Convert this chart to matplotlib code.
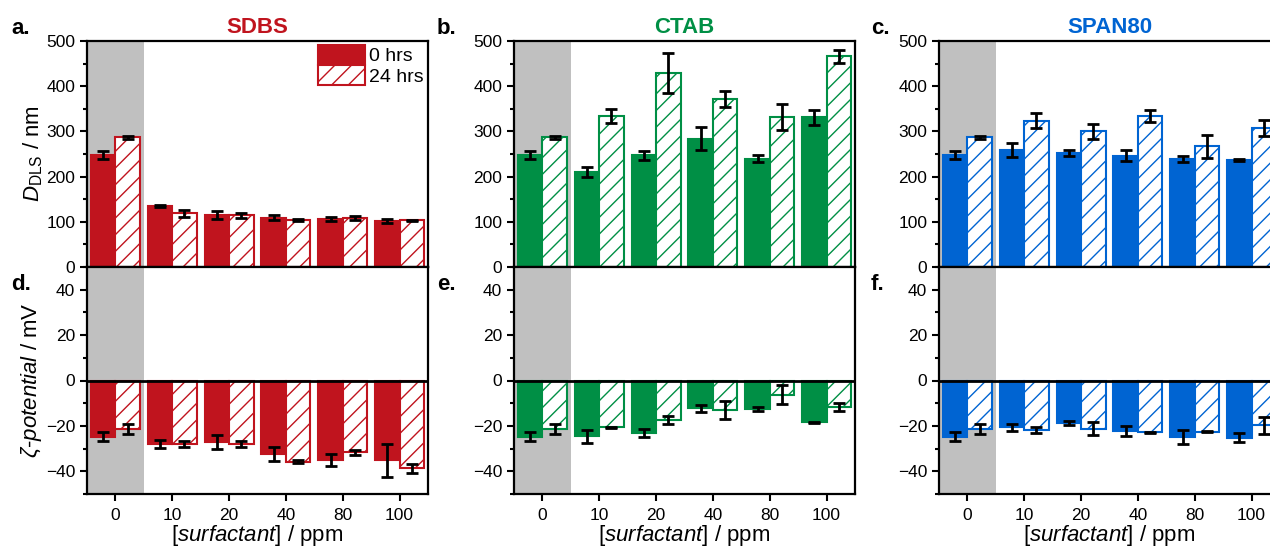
import numpy as np
import matplotlib
matplotlib.use('Agg')
import matplotlib.pyplot as plt
from matplotlib.ticker import MultipleLocator
from matplotlib.patches import Patch

plt.rcParams['font.family'] = ['Liberation Sans', 'DejaVu Sans']
plt.rcParams['mathtext.fontset'] = 'custom'
plt.rcParams['mathtext.rm'] = 'Liberation Sans'
plt.rcParams['mathtext.it'] = 'Liberation Sans:italic'
plt.rcParams['hatch.linewidth'] = 1.0

categories = ['0', '10', '20', '40', '80', '100']
surfactants = ['SDBS', 'CTAB', 'SPAN80']
colors = ['#C0141E', '#008F45', '#0064D2']

# D_DLS (nm), 0 hrs and 24 hrs
sdbs_d0 = [248, 135, 116, 109, 106, 102]
sdbs_d0_err = [9, 2, 9, 5, 4, 4]
sdbs_d24 = [287, 119, 114, 104, 108, 103]
sdbs_d24_err = [3, 8, 5, 3, 5, 2]

ctab_d0 = [248, 211, 247, 284, 240, 331]
ctab_d0_err = [9, 11, 10, 26, 7, 17]
ctab_d24 = [287, 334, 430, 372, 332, 466]
ctab_d24_err = [3, 16, 44, 17, 28, 14]

span_d0 = [248, 259, 252, 246, 239, 237]
span_d0_err = [9, 15, 7, 12, 7, 3]
span_d24 = [287, 324, 300, 334, 267, 307]
span_d24_err = [3, 16, 16, 13, 26, 18]

# zeta potential (mV), 0 hrs and 24 hrs
sdbs_z0 = [-24.8, -28.0, -27.0, -32.3, -35.0, -35.2]
sdbs_z0_err = [2.0, 1.8, 3.2, 3.0, 2.5, 7.3]
sdbs_z24 = [-21.3, -28.1, -28.1, -35.7, -31.6, -38.6]
sdbs_z24_err = [2.2, 1.3, 1.3, 0.5, 1.0, 2.0]

ctab_z0 = [-24.8, -24.6, -23.1, -12.2, -12.5, -18.4]
ctab_z0_err = [2.0, 2.8, 1.8, 1.5, 1.0, 0.3]
ctab_z24 = [-21.3, -20.6, -17.4, -12.9, -6.2, -11.7]
ctab_z24_err = [2.2, 0.3, 1.7, 4.0, 4.0, 1.8]

span_z0 = [-24.8, -20.7, -18.8, -22.4, -25.0, -25.3]
span_z0_err = [2.0, 1.5, 1.0, 2.2, 3.1, 2.0]
span_z24 = [-21.3, -21.9, -21.3, -22.8, -22.5, -19.8]
span_z24_err = [2.2, 1.4, 2.9, 0.3, 0.3, 3.8]

d_data = [(sdbs_d0, sdbs_d0_err, sdbs_d24, sdbs_d24_err),
          (ctab_d0, ctab_d0_err, ctab_d24, ctab_d24_err),
          (span_d0, span_d0_err, span_d24, span_d24_err)]
z_data = [(sdbs_z0, sdbs_z0_err, sdbs_z24, sdbs_z24_err),
          (ctab_z0, ctab_z0_err, ctab_z24, ctab_z24_err),
          (span_z0, span_z0_err, span_z24, span_z24_err)]

W, H = 1270, 552
fig = plt.figure(figsize=(W / 100, H / 100), dpi=100)

col_left = [87, 514, 939]
ax_w = 341
top_y0, mid_y, bot_y1 = 41, 267, 494


def px_axes(left, top, bottom):
    return fig.add_axes([left / W, 1 - bottom / H, ax_w / W, (bottom - top) / H])


x = np.arange(len(categories))
bw = 0.43
ebar = dict(fmt='none', ecolor='black', elinewidth=2, capsize=4.5, capthick=2, zorder=5)


def draw_bars(ax, color, v0, e0, v24, e24):
    ax.axvspan(-0.5, 0.5, color='#C0C0C0', zorder=0, lw=0)
    ax.bar(x - bw / 2, v0, bw, color=color, edgecolor=color, linewidth=1.5, zorder=2)
    ax.bar(x + bw / 2, v24, bw, facecolor='white', edgecolor=color, hatch='//',
           linewidth=1.5, zorder=2)
    ax.errorbar(x - bw / 2, v0, yerr=e0, **ebar)
    ax.errorbar(x + bw / 2, v24, yerr=e24, **ebar)
    ax.set_xlim(-0.5, 5.5)
    for s in ax.spines.values():
        s.set_linewidth(1.6)
    ax.tick_params(which='major', direction='out', length=5, width=1.5, labelsize=12.5)
    ax.tick_params(which='minor', direction='out', length=3, width=1.5)
    ax.tick_params(axis='x', pad=5)
    ax.set_xticks(x)


panel_top = ['a.', 'b.', 'c.']
panel_bot = ['d.', 'e.', 'f.']
label_x = [11, 437, 871]

for i in range(3):
    color = colors[i]
    axt = px_axes(col_left[i], top_y0, mid_y)
    draw_bars(axt, color, *d_data[i])
    axt.set_ylim(0, 500)
    axt.yaxis.set_major_locator(MultipleLocator(100))
    axt.yaxis.set_minor_locator(MultipleLocator(50))
    axt.set_xticklabels([])
    axt.set_title(surfactants[i], color=color, fontsize=16, fontweight='bold', pad=6)

    axb = px_axes(col_left[i], mid_y, bot_y1)
    draw_bars(axb, color, *z_data[i])
    axb.axhline(0, color='black', lw=2, zorder=4)
    axb.set_ylim(-50, 50)
    axb.set_yticks([-40, -20, 0, 20, 40])
    axb.yaxis.set_minor_locator(MultipleLocator(10))
    axb.set_xticklabels(categories)
    axb.set_xlabel(r'[$\mathit{surfactant}$] / ppm', fontsize=16, labelpad=0)

    fig.text(label_x[i] / W, 1 - 28 / H, panel_top[i], fontsize=16, fontweight='bold',
             ha='left', va='center')
    fig.text(label_x[i] / W, 1 - 284 / H, panel_bot[i], fontsize=16, fontweight='bold',
             ha='left', va='center')

    if i == 0:
        axt.set_ylabel(r'$\mathit{D}_{\mathrm{DLS}}$ / nm', fontsize=16, labelpad=1)
        axb.set_ylabel(r'$\mathit{\zeta}$-$\mathit{potential}$ / mV', fontsize=16, labelpad=1)
        handles = [Patch(facecolor=color, edgecolor=color, linewidth=1.5),
                   Patch(facecolor='white', edgecolor=color, hatch='//', linewidth=1.5)]
        axt.legend(handles, ['0 hrs', '24 hrs'], loc='upper right', frameon=False,
                   fontsize=14, handlelength=2.4, handleheight=1.2, labelspacing=0,
                   handletextpad=0.25, borderaxespad=0.1, borderpad=0.1)

fig.savefig('out.png', dpi=100)
